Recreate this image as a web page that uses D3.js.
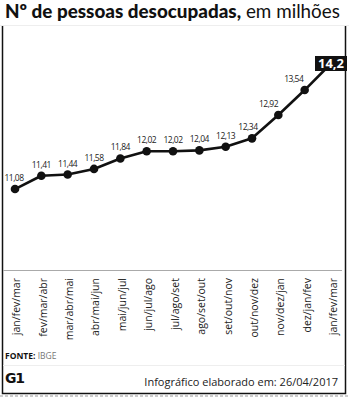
<!DOCTYPE html>
<html>
<head>
<meta charset="utf-8">
<script src="https://cdn.jsdelivr.net/npm/d3@7"></script>
<style>
  html, body { margin: 0; padding: 0; background: #fff; }
  svg { display: block; }
</style>
</head>
<body>
<svg id="chart" width="349" height="397"></svg>
<script>
// Trimestres móveis e desocupados (milhões)
const periods = ["jan/fev/mar", "fev/mar/abr", "mar/abr/mai", "abr/mai/jun", "mai/jun/jul",
  "jun/jul/ago", "jul/ago/set", "ago/set/out", "set/out/nov", "out/nov/dez",
  "nov/dez/jan", "dez/jan/fev", "jan/fev/mar"];
const values = [11.08, 11.41, 11.44, 11.58, 11.84, 12.02, 12.02, 12.04, 12.13, 12.34, 12.92, 13.54, 14.2];
const valueLabels = ["11,08", "11,41", "11,44", "11,58", "11,84", "12,02", "12,02", "12,04", "12,13", "12,34", "12,92", "13,54", "14,2"];

const svg = d3.select("#chart");
const W = 349, H = 397;

// Title
const title = svg.append("text")
  .attr("x", 5).attr("y", 18)
  .attr("font-family", "Lato, 'Open Sans', sans-serif")
  .attr("font-size", 18)
  .attr("fill", "#111");
title.append("tspan").attr("font-weight", 900).text("Nº de pessoas desocupadas,");
title.append("tspan").attr("font-weight", 400).text(" em milhões");
// fit title to width
const tl = title.node().getComputedTextLength();
title.attr("font-size", 18 * 335 / tl);

// title separator and frame
svg.append("line").attr("x1", 0).attr("x2", W).attr("y1", 25.5).attr("y2", 25.5)
  .attr("stroke", "#eee").attr("stroke-width", 1);
svg.append("path")
  .attr("d", `M2.5,26 V393.5 H345.5 V26`)
  .attr("fill", "none").attr("stroke", "#111").attr("stroke-width", 1.5);
svg.append("line").attr("x1", 0).attr("x2", W).attr("y1", 396).attr("y2", 396)
  .attr("stroke", "#ccc").attr("stroke-width", 2).attr("stroke-dasharray", "3,2");

// scales
const x = d3.scalePoint().domain(d3.range(values.length)).range([15, 331]);
const y = d3.scaleLinear().domain([10, 15]).range([232.5, 31.3]);

// axis baseline
svg.append("line").attr("x1", 3).attr("x2", 342).attr("y1", 270.5).attr("y2", 270.5)
  .attr("stroke", "#aaa").attr("stroke-width", 1.2);

// category labels, rotated
const xa = d3.scalePoint().domain(d3.range(periods.length)).range([16, 333]);
const axis = d3.axisBottom(xa).tickSize(0).tickFormat(i => periods[i]);
const gAxis = svg.append("g").attr("transform", "translate(0,272)").call(axis);
gAxis.select(".domain").remove();
gAxis.selectAll("text")
  .attr("font-family", "'Open Sans', sans-serif")
  .attr("font-size", 10.5)
  .attr("fill", "#222")
  .attr("text-anchor", "end")
  .attr("transform", "rotate(-90)")
  .attr("x", -6).attr("y", 0).attr("dy", "0.35em");

// line
const line = d3.line().x((d, i) => x(i)).y(d => y(d));
svg.append("path").datum(values)
  .attr("d", line)
  .attr("fill", "none").attr("stroke", "#111").attr("stroke-width", 2.6)
  .attr("stroke-linejoin", "round");

// points (last one sits under the highlight box)
svg.selectAll("circle.pt").data(values.slice(0, -1)).enter().append("circle")
  .attr("class", "pt")
  .attr("cx", (d, i) => x(i)).attr("cy", d => y(d)).attr("r", 4.3)
  .attr("fill", "#111");

// value labels; nudged left where the line climbs steeply on both sides
svg.selectAll("text.val").data(values.slice(0, -1)).enter().append("text")
  .attr("class", "val")
  .attr("x", (d, i) => {
    const prev = i > 0 ? d - values[i - 1] : 0;
    const next = values[i + 1] - d;
    const shift = Math.max(0, (prev + next - 0.5) * 14);
    return x(i) - shift - (i === 0 ? 1 : 0);
  })
  .attr("y", d => y(d) - 8)
  .attr("text-anchor", "middle")
  .attr("font-family", "'Open Sans', sans-serif")
  .attr("font-size", 8.5)
  .attr("letter-spacing", -0.5)
  .attr("fill", "#222")
  .text((d, i) => valueLabels[i]);

// highlighted last value
const li = values.length - 1;
svg.append("rect")
  .attr("x", x(li) - 16).attr("y", y(values[li]) - 7.5)
  .attr("width", 32).attr("height", 15)
  .attr("fill", "#111");
svg.append("text")
  .attr("x", x(li)).attr("y", y(values[li]) + 5)
  .attr("text-anchor", "middle")
  .attr("font-family", "'Open Sans', sans-serif")
  .attr("font-weight", 700).attr("font-size", 13)
  .attr("fill", "#fff")
  .text(valueLabels[li]);

// footer
const src = svg.append("text").attr("x", 5).attr("y", 359)
  .attr("font-family", "'Open Sans', sans-serif").attr("font-size", 8.5);
src.append("tspan").attr("font-weight", 700).attr("fill", "#111").text("FONTE:");
src.append("tspan").attr("fill", "#777").text(" IBGE");

svg.append("line").attr("x1", 3).attr("x2", 345).attr("y1", 365.5).attr("y2", 365.5)
  .attr("stroke", "#eee").attr("stroke-width", 1);

svg.append("text").attr("x", 5).attr("y", 383)
  .attr("font-family", "'DejaVu Sans', sans-serif").attr("font-weight", 700)
  .attr("font-size", 14).attr("letter-spacing", -1.2).attr("fill", "#111")
  .text("G1");

svg.append("text").attr("x", 338).attr("y", 386)
  .attr("text-anchor", "end")
  .attr("font-family", "'Open Sans', sans-serif").attr("font-size", 11)
  .attr("fill", "#222")
  .text("Infográfico elaborado em: 26/04/2017");
</script>
</body>
</html>
